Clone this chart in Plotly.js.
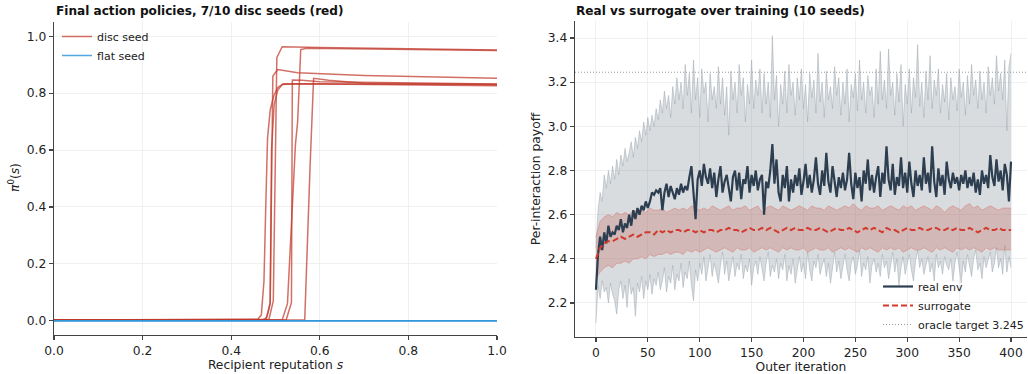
<!DOCTYPE html>
<html>
<head>
<meta charset="utf-8">
<script src="https://cdn.plot.ly/plotly-3.0.1.min.js"></script>
<style>
  html, body { margin: 0; padding: 0; background: #fff; }
  #chart { width: 1028px; height: 374px; }
</style>
</head>
<body>
<div id="chart"></div>
<script>
// ---------------- Left panel: final action policies ----------------
const discS1 = [0, 0.46, 0.485, 0.495, 0.503, 0.515, 0.6, 0.8, 1.0];
const discPi1 = [0.003, 0.003, 0.004, 0.07, 0.925, 0.963, 0.960, 0.956, 0.952];
const discS2 = [0, 0.515, 0.527, 0.545, 0.55, 0.557, 0.57, 0.7, 1.0];
const discPi2 = [0.003, 0.003, 0.06, 0.62, 0.70, 0.953, 0.958, 0.955, 0.950];
const discS3 = [0, 0.47, 0.48, 0.488, 0.494, 0.505, 0.55, 0.7, 1.0];
const discPi3 = [0.003, 0.003, 0.01, 0.06, 0.86, 0.883, 0.872, 0.862, 0.852];
const discS4 = [0, 0.524, 0.536, 0.538, 0.56, 0.6, 1.0];
const discPi4 = [0.003, 0.003, 0.064, 0.846, 0.845, 0.840, 0.832];
const discS5 = [0, 0.566, 0.578, 0.586, 0.62, 0.7, 1.0];
const discPi5 = [0.003, 0.003, 0.54, 0.852, 0.845, 0.835, 0.830];
const discS6 = [0, 0.45, 0.46, 0.468, 0.474, 0.478, 0.482, 0.488, 0.496, 0.505, 0.518, 0.6, 1.0];
const discPi6 = [0.003, 0.003, 0.005, 0.02, 0.14, 0.40, 0.64, 0.74, 0.79, 0.82, 0.833, 0.832, 0.826];
const discS7 = [0, 0.478, 0.483, 0.488, 0.491, 0.497, 0.505, 0.515, 0.55, 1.0];
const discPi7 = [0.003, 0.005, 0.03, 0.064, 0.60, 0.76, 0.81, 0.83, 0.833, 0.830];
const discSeeds = [[discS1, discPi1], [discS2, discPi2], [discS3, discPi3], [discS4, discPi4],
                   [discS5, discPi5], [discS6, discPi6], [discS7, discPi7]];
const flatS = [0, 1.0];
const flatPi = [0, 0];
const nFlatSeeds = 3;

// ---------------- Right panel: real vs surrogate ----------------
const realStep = 2;
const realMean = [
 2.26,2.42,2.50,2.44,2.52,2.47,2.55,2.50,2.52,2.51,
 2.55,2.53,2.58,2.52,2.56,2.54,2.60,2.55,2.62,2.58,
 2.63,2.60,2.64,2.62,2.66,2.63,2.66,2.70,2.69,2.71,
 2.70,2.72,2.62,2.70,2.74,2.68,2.73,2.70,2.67,2.72,
 2.69,2.74,2.70,2.73,2.71,2.77,2.82,2.70,2.58,2.76,
 2.80,2.73,2.83,2.77,2.74,2.81,2.72,2.79,2.68,2.76,
 2.82,2.70,2.75,2.78,2.72,2.66,2.77,2.80,2.71,2.79,
 2.67,2.76,2.74,2.82,2.70,2.78,2.73,2.80,2.71,2.76,
 2.78,2.60,2.75,2.72,2.80,2.92,2.74,2.85,2.70,2.66,
 2.78,2.72,2.82,2.66,2.76,2.70,2.78,2.73,2.81,2.69,
 2.75,2.83,2.72,2.78,2.70,2.76,2.86,2.74,2.69,2.80,
 2.73,2.88,2.75,2.70,2.82,2.74,2.68,2.77,2.72,2.79,
 2.71,2.76,2.88,2.74,2.67,2.79,2.72,2.77,2.66,2.80,
 2.74,2.85,2.71,2.78,2.70,2.77,2.82,2.68,2.79,2.74,
 2.91,2.76,2.71,2.83,2.69,2.77,2.73,2.86,2.72,2.79,
 2.70,2.84,2.74,2.68,2.80,2.73,2.78,2.71,2.86,2.74,
 2.79,2.70,2.91,2.75,2.68,2.81,2.73,2.78,2.69,2.84,
 2.76,2.72,2.79,2.74,2.77,2.71,2.78,2.74,2.80,2.72,
 2.77,2.73,2.79,2.70,2.76,2.69,2.80,2.74,2.78,2.72,
 2.87,2.77,2.73,2.85,2.75,2.80,2.71,2.83,2.78,2.66,
 2.84];
const realUpper = [
 2.45,2.62,2.70,2.66,2.78,2.72,2.80,2.74,2.82,2.76,
 2.85,2.78,2.87,2.82,2.90,2.84,2.88,2.93,2.86,2.95,
 2.90,2.98,2.93,3.02,2.96,3.04,2.98,3.05,3.00,3.08,
 3.03,3.12,3.06,3.16,3.08,3.14,3.04,3.18,3.10,3.22,
 3.12,3.20,3.08,3.28,3.14,3.24,3.06,3.30,3.12,3.22,
 3.04,3.26,3.15,3.20,3.02,3.24,3.12,3.18,3.08,3.27,
 3.10,3.22,3.05,3.18,2.96,3.25,3.12,3.20,3.06,3.28,
 3.14,3.22,3.02,3.19,3.10,3.30,3.08,3.21,3.14,3.26,
 3.06,3.24,3.10,3.20,3.04,3.41,3.12,3.23,3.00,3.19,
 3.10,3.25,3.06,3.28,3.14,3.20,3.05,3.22,3.12,3.26,
 3.08,3.19,3.02,3.24,3.13,3.21,3.06,3.33,3.11,3.20,
 3.04,3.25,3.12,3.18,3.08,3.27,3.14,3.22,3.05,3.20,
 3.10,3.26,3.02,3.19,3.13,3.24,3.07,3.30,3.12,3.20,
 3.06,3.23,3.14,3.18,3.04,3.26,3.10,3.34,3.12,3.21,
 3.08,3.35,3.14,3.20,3.05,3.24,3.11,3.28,3.00,3.19,
 3.10,3.26,3.06,3.22,3.13,3.37,3.09,3.20,3.04,3.25,
 3.12,3.32,3.08,3.21,3.14,3.26,3.06,3.19,3.11,3.24,
 3.03,3.22,3.12,3.18,3.07,3.26,3.13,3.20,3.05,3.23,
 3.10,3.28,3.14,3.21,3.08,3.25,3.12,3.20,3.06,3.27,
 3.14,3.22,3.10,3.32,3.16,3.24,3.12,3.30,2.98,3.27,
 3.33];
const realLower = [
 2.11,2.28,2.22,2.30,2.25,2.27,2.20,2.29,2.24,2.21,
 2.15,2.26,2.30,2.22,2.28,2.18,2.31,2.24,2.27,2.14,
 2.29,2.25,2.32,2.22,2.30,2.26,2.33,2.24,2.31,2.28,
 2.34,2.26,2.30,2.36,2.25,2.32,2.29,2.37,2.26,2.33,
 2.30,2.38,2.27,2.34,2.31,2.39,2.28,2.21,2.35,2.30,
 2.38,2.33,2.41,2.30,2.36,2.42,2.32,2.38,2.34,2.29,
 2.37,2.43,2.33,2.39,2.30,2.36,2.41,2.32,2.38,2.35,
 2.42,2.31,2.37,2.34,2.40,2.28,2.36,2.39,2.33,2.41,
 2.35,2.30,2.38,2.43,2.32,2.37,2.34,2.40,2.31,2.38,
 2.35,2.42,2.30,2.37,2.33,2.40,2.29,2.36,2.41,2.34,
 2.38,2.31,2.43,2.35,2.30,2.39,2.36,2.42,2.33,2.37,
 2.40,2.32,2.38,2.29,2.36,2.43,2.34,2.39,2.31,2.37,
 2.42,2.35,2.30,2.38,2.41,2.33,2.37,2.44,2.32,2.38,
 2.35,2.41,2.29,2.37,2.40,2.34,2.38,2.32,2.42,2.36,
 2.39,2.31,2.37,2.43,2.34,2.40,2.28,2.36,2.41,2.33,
 2.38,2.42,2.35,2.30,2.39,2.44,2.36,2.40,2.33,2.37,
 2.41,2.34,2.38,2.30,2.42,2.36,2.39,2.33,2.41,2.37,
 2.35,2.40,2.30,2.38,2.43,2.36,2.29,2.39,2.34,2.42,
 2.37,2.32,2.40,2.44,2.35,2.38,2.31,2.41,2.36,2.39,
 2.43,2.34,2.38,2.45,2.36,2.40,2.33,2.46,2.34,2.41,
 2.36];

const surrStep = 4;
const surrMean = [
 2.40,2.45,2.47,2.48,2.48,2.49,2.50,2.49,2.50,2.51,
 2.50,2.51,2.52,2.52,2.51,2.53,2.52,2.53,2.52,2.53,
 2.53,2.52,2.53,2.53,2.52,2.53,2.52,2.53,2.53,2.52,
 2.53,2.53,2.54,2.53,2.53,2.52,2.53,2.54,2.53,2.53,
 2.54,2.53,2.54,2.53,2.52,2.53,2.54,2.53,2.54,2.53,
 2.53,2.54,2.53,2.53,2.54,2.53,2.52,2.53,2.54,2.53,
 2.53,2.54,2.53,2.52,2.53,2.54,2.53,2.54,2.53,2.52,
 2.54,2.53,2.53,2.52,2.53,2.54,2.53,2.53,2.54,2.53,
 2.53,2.54,2.54,2.53,2.53,2.54,2.53,2.54,2.53,2.53,
 2.54,2.53,2.52,2.53,2.54,2.53,2.53,2.54,2.53,2.53,
 2.53];
const surrUpper = [
 2.50,2.57,2.59,2.60,2.59,2.61,2.60,2.61,2.60,2.62,
 2.61,2.62,2.61,2.63,2.62,2.62,2.63,2.61,2.62,2.63,
 2.62,2.63,2.62,2.64,2.63,2.62,2.63,2.62,2.64,2.63,
 2.62,2.63,2.64,2.62,2.63,2.63,2.64,2.62,2.63,2.64,
 2.61,2.63,2.64,2.63,2.62,2.64,2.63,2.62,2.63,2.64,
 2.63,2.62,2.64,2.63,2.63,2.62,2.64,2.63,2.62,2.63,
 2.64,2.63,2.65,2.63,2.62,2.64,2.63,2.63,2.64,2.62,
 2.63,2.64,2.63,2.62,2.64,2.63,2.64,2.62,2.63,2.64,
 2.63,2.62,2.64,2.63,2.61,2.63,2.64,2.63,2.62,2.64,
 2.65,2.63,2.64,2.62,2.63,2.64,2.63,2.62,2.63,2.63,
 2.63];
const surrLower = [
 2.31,2.34,2.36,2.37,2.36,2.38,2.38,2.39,2.38,2.40,
 2.40,2.41,2.40,2.42,2.41,2.42,2.42,2.43,2.42,2.43,
 2.43,2.42,2.44,2.43,2.44,2.43,2.44,2.45,2.44,2.43,
 2.44,2.45,2.44,2.43,2.45,2.44,2.44,2.45,2.43,2.44,
 2.45,2.44,2.45,2.44,2.43,2.45,2.44,2.45,2.44,2.44,
 2.45,2.43,2.44,2.45,2.44,2.44,2.45,2.43,2.44,2.45,
 2.44,2.45,2.44,2.43,2.45,2.44,2.45,2.44,2.43,2.45,
 2.44,2.45,2.44,2.45,2.43,2.44,2.45,2.44,2.44,2.45,
 2.44,2.43,2.45,2.44,2.45,2.44,2.43,2.45,2.44,2.45,
 2.44,2.45,2.44,2.43,2.45,2.44,2.45,2.44,2.44,2.44,
 2.44];
const oracleTarget = 3.245;

const realIters = realMean.map((_, i) => i * realStep);
const surrIters = surrMean.map((_, i) => i * surrStep);

// ---------------- styling ----------------
const RED = '#c0392b';
const BLUE = '#3498db';
const NAVY = '#2c3e50';
const FONT = 'DejaVu Sans, sans-serif';
const TICK = 12.3;

const traces = [];
discSeeds.forEach(([s, p], i) => {
  traces.push({
    x: s, y: p, type: 'scatter', mode: 'lines',
    line: { color: RED, width: 1.5 }, opacity: 0.72,
    name: 'disc seed', showlegend: i === 0, legend: 'legend',
    xaxis: 'x', yaxis: 'y', hoverinfo: 'skip'
  });
});
for (let i = 0; i < nFlatSeeds; i++) {
  traces.push({
    x: flatS, y: flatPi, type: 'scatter', mode: 'lines',
    line: { color: BLUE, width: 1.5 }, opacity: 0.85,
    name: 'flat seed', showlegend: i === 0, legend: 'legend',
    xaxis: 'x', yaxis: 'y', hoverinfo: 'skip'
  });
}

// gray band (real)
traces.push({ x: realIters, y: realLower, type: 'scatter', mode: 'lines',
  line: { color: 'rgba(149,160,168,0.45)', width: 1 }, showlegend: false,
  xaxis: 'x2', yaxis: 'y2', hoverinfo: 'skip' });
traces.push({ x: realIters, y: realUpper, type: 'scatter', mode: 'lines',
  line: { color: 'rgba(149,160,168,0.45)', width: 1 }, fill: 'tonexty',
  fillcolor: 'rgba(127,140,150,0.30)', showlegend: false,
  xaxis: 'x2', yaxis: 'y2', hoverinfo: 'skip' });
// red band (surrogate)
traces.push({ x: surrIters, y: surrLower, type: 'scatter', mode: 'lines',
  line: { color: 'rgba(220,110,105,0.45)', width: 1 }, showlegend: false,
  xaxis: 'x2', yaxis: 'y2', hoverinfo: 'skip' });
traces.push({ x: surrIters, y: surrUpper, type: 'scatter', mode: 'lines',
  line: { color: 'rgba(220,110,105,0.45)', width: 1 }, fill: 'tonexty',
  fillcolor: 'rgba(192,57,43,0.22)', showlegend: false,
  xaxis: 'x2', yaxis: 'y2', hoverinfo: 'skip' });
// mean lines
traces.push({ x: realIters, y: realMean, type: 'scatter', mode: 'lines',
  line: { color: NAVY, width: 2.2 }, name: 'real env', legend: 'legend2',
  xaxis: 'x2', yaxis: 'y2', hoverinfo: 'skip' });
traces.push({ x: surrIters, y: surrMean, type: 'scatter', mode: 'lines',
  line: { color: '#d13a2c', width: 2, dash: '6px,3px' }, name: 'surrogate', legend: 'legend2',
  xaxis: 'x2', yaxis: 'y2', hoverinfo: 'skip' });
// legend entry for the oracle line (line itself is a layout shape)
traces.push({ x: [null], y: [null], type: 'scatter', mode: 'lines',
  line: { color: '#999', width: 1, dash: '1px,2px' }, name: 'oracle target ' + oracleTarget,
  legend: 'legend2', xaxis: 'x2', yaxis: 'y2', hoverinfo: 'skip' });

const axisCommon = {
  showline: true, linecolor: '#444', linewidth: 1.2,
  ticks: 'outside', ticklen: 4, tickwidth: 1.2, tickcolor: '#444',
  showgrid: true, gridcolor: '#ececec', gridwidth: 0.8,
  zeroline: false, automargin: false,
  tickfont: { family: FONT, size: TICK, color: '#222' }
};
const titleFont = { family: FONT, size: TICK, color: '#222' };
const legendFont = { family: FONT, size: 11, color: '#222' };

const layout = {
  width: 1028, height: 374,
  margin: { l: 0, r: 0, t: 0, b: 0, autoexpand: false },
  paper_bgcolor: '#fff', plot_bgcolor: '#fff',
  font: { family: FONT, color: '#222' },
  showlegend: true,
  xaxis: Object.assign({}, axisCommon, {
    domain: [54 / 1028, 497 / 1028], anchor: 'y',
    range: [0, 1], tickvals: [0, 0.2, 0.4, 0.6, 0.8, 1.0], tickformat: '.1f',
    title: { text: 'Recipient reputation <i>s</i>', standoff: 3, font: titleFont }
  }),
  yaxis: Object.assign({}, axisCommon, {
    domain: [1 - 335 / 374, 1 - 22 / 374], anchor: 'x',
    range: [-0.05, 1.05], tickvals: [0, 0.2, 0.4, 0.6, 0.8, 1.0], tickformat: '.1f'
  }),
  xaxis2: Object.assign({}, axisCommon, {
    domain: [575 / 1028, 1027 / 1028], anchor: 'y2',
    range: [-20.2, 415.4], tickvals: [0, 50, 100, 150, 200, 250, 300, 350, 400],
    title: { text: 'Outer iteration', standoff: 3, font: titleFont }
  }),
  yaxis2: Object.assign({}, axisCommon, {
    domain: [1 - 337 / 374, 1 - 21 / 374], anchor: 'x2',
    range: [2.046, 3.477], tickvals: [2.2, 2.4, 2.6, 2.8, 3.0, 3.2, 3.4], tickformat: '.1f',
    title: { text: 'Per-interaction payoff', standoff: 4, font: titleFont }
  }),
  legend: {
    xref: 'container', yref: 'container',
    x: 57 / 1028, y: 1 - 22 / 374, xanchor: 'left', yanchor: 'top', traceorder: 'normal',
    bgcolor: 'rgba(255,255,255,0)', borderwidth: 0,
    font: legendFont, tracegroupgap: 0, itemwidth: 30
  },
  legend2: {
    xref: 'container', yref: 'container',
    x: 878 / 1028, y: 1 - 272 / 374, xanchor: 'left', yanchor: 'top', traceorder: 'normal',
    bgcolor: 'rgba(255,255,255,0)', borderwidth: 0,
    font: legendFont, tracegroupgap: 0, itemwidth: 30
  },
  shapes: [{
    type: 'line', xref: 'x2 domain', yref: 'y2', x0: 0, x1: 1,
    y0: oracleTarget, y1: oracleTarget,
    line: { color: '#999', width: 1, dash: '1px,2px' }, layer: 'above'
  }],
  annotations: [
    { text: '<b>Final action policies, 7/10 disc seeds (red)</b>', xref: 'paper', yref: 'paper',
      x: 54 / 1028, y: 1 - 11 / 374, xanchor: 'left', yanchor: 'middle', showarrow: false,
      font: { family: FONT, size: 12.1, color: '#111' } },
    { text: '<b>Real vs surrogate over training (10 seeds)</b>', xref: 'paper', yref: 'paper',
      x: 574 / 1028, y: 1 - 11 / 374, xanchor: 'left', yanchor: 'middle', showarrow: false,
      font: { family: FONT, size: 12.1, color: '#111' } },
    { text: '<i>π</i><sup>0</sup>(<i>s</i>)', xref: 'paper', yref: 'paper',
      x: 14 / 1028, y: 1 - 178 / 374, xanchor: 'center', yanchor: 'middle', textangle: -90,
      showarrow: false, font: titleFont }
  ]
};

Plotly.newPlot('chart', traces, layout, { displayModeBar: false, staticPlot: true });
</script>
</body>
</html>
